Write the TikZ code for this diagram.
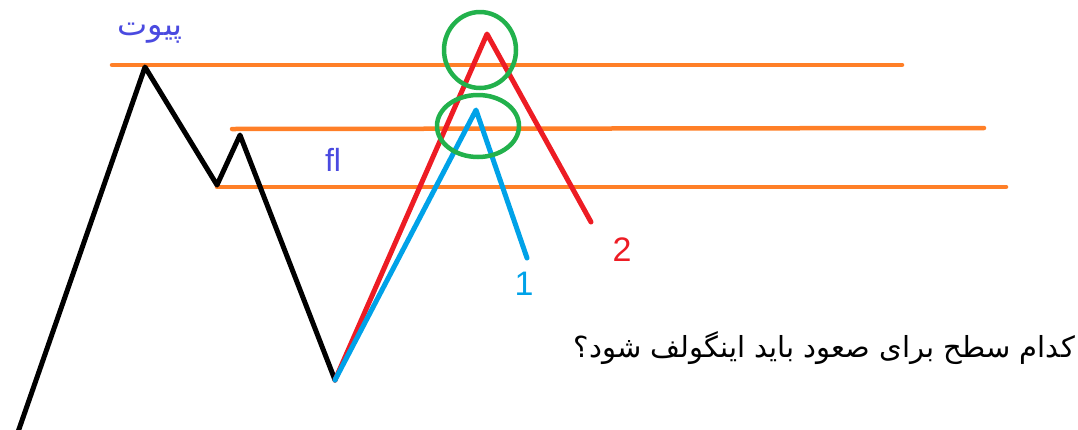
\documentclass[tikz,border=0pt]{standalone}
\usepackage{fontspec}
\setmainfont{Liberation Sans}
\newfontfamily\arabicfont[Script=Arabic]{DejaVu Sans}
\TeXXeTstate=1
\definecolor{paintorange}{HTML}{FF7F27}
\definecolor{paintred}{HTML}{ED1C24}
\definecolor{paintblue}{HTML}{00A2E8}
\definecolor{paintgreen}{HTML}{22B14C}
\definecolor{paintindigo}{HTML}{4A4AE0}
\tikzset{
  level/.style={paintorange, line width=4.5pt},
  leg/.style={line width=5pt},
  mark circle/.style={paintgreen, line width=4.5pt},
  label text/.style={inner sep=0pt, font=\fontsize{32}{36}\selectfont}
}
\begin{document}
\begin{tikzpicture}[x=1pt, y=-1pt, line join=round, line cap=round]
\useasboundingbox (0,0) rectangle (1078,429);
% swing points
\coordinate (start) at (18,432);
\coordinate (pivot) at (145,67);
\coordinate (low1) at (217,185);
\coordinate (high1) at (240,135);
\coordinate (low2) at (335,380);
\coordinate (top2) at (487,34);
\coordinate (top1) at (476,110);
\coordinate (end2) at (591,222);
\coordinate (end1) at (527,258);
% levels
\coordinate (a1) at (112,65);  \coordinate (b1) at (902,65);
\coordinate (a2) at (232,129); \coordinate (b2) at (984,128);
\coordinate (a3) at (217,187); \coordinate (b3) at (1006,187);
\draw[level] (a1)--(b1);
\draw[level] (a2)--(b2);
\draw[level] (a3)--(b3);
% price
\draw[leg] (start)--(pivot)--(low1)--(high1)--(low2);
\draw[leg, paintred] (low2)--(top2)--(end2);
\draw[leg, paintblue] (low2)--(top1)--(end1);
\draw[mark circle] (480,50) ellipse (36 and 38);
\draw[mark circle] (478,126) ellipse (41 and 31);
% labels
\node[label text, paintindigo] (pivotlabel) at (150,33) {\arabicfont\beginR پیوت\endR};
\node[label text, paintindigo] (fllabel) at (333,160) {fl};
\node[label text, paintblue, font=\fontsize{34}{36}\selectfont] (one) at (524,284) {1};
\node[label text, paintred, font=\fontsize{34}{36}\selectfont] (two) at (622,250) {2};
\node[label text, anchor=east, font=\arabicfont\fontsize{29}{32}\selectfont] (question) at (1075,348) {\beginR کدام سطح برای صعود باید اینگولف شود؟\endR};
\end{tikzpicture}
\end{document}
